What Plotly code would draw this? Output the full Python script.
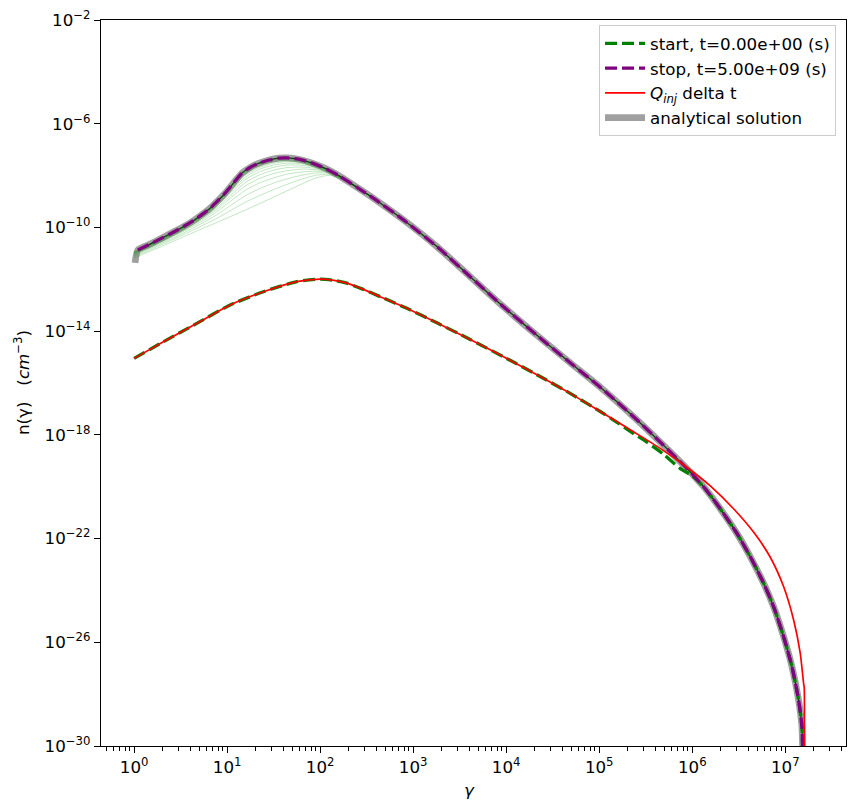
import plotly.graph_objects as go

# ---------------- data (log10 values) ----------------
# stop curve (t = 5.00e+09 s)
stop_logx = [0.04, 0.15, 0.261, 0.45, 0.62, 0.75, 0.835, 0.9, 0.978, 1.07, 1.158, 1.25, 1.337,
             1.45, 1.552, 1.65, 1.767, 1.9, 2.054, 2.2, 2.412, 2.591, 2.896, 3.255, 3.613, 3.971,
             4.330, 4.688, 5.03, 5.369, 5.656, 5.943, 6.122, 6.301, 6.480, 6.624, 6.767, 6.875,
             6.982, 7.072, 7.143, 7.179, 7.19]
stop_logy = [-10.87, -10.68, -10.48, -10.13, -9.78, -9.45, -9.20, -8.97, -8.68, -8.28, -7.91, -7.68,
             -7.53, -7.40, -7.33, -7.32, -7.37, -7.50, -7.72, -8.0, -8.49, -8.92, -9.71, -10.74,
             -11.90, -13.06, -14.16, -15.22, -16.22, -17.30, -18.28, -19.30, -20.0, -20.85, -21.80,
             -22.70, -23.72, -24.63, -25.78, -26.94, -28.22, -29.25, -31.0]

# analytical solution
ana_logx = [0.01] + stop_logx
ana_logy = [-11.37] + stop_logy

# Q_inj * delta t
inj_logx = [0.0, 0.315, 0.674, 1.032, 1.39, 1.749, 2.0, 2.15, 2.287, 2.45, 2.645, 2.932, 3.255,
            3.613, 3.971, 4.330, 4.688, 5.011, 5.369, 5.656, 5.943, 6.194, 6.444, 6.659, 6.839,
            6.982, 7.090, 7.161, 7.197, 7.204, 7.204]
inj_logy = [-15.05, -14.41, -13.70, -12.99, -12.48, -12.09, -11.99, -12.04, -12.15, -12.37, -12.67,
            -13.12, -13.68, -14.32, -14.99, -15.68, -16.40, -17.10, -17.88, -18.52, -19.25, -19.97,
            -20.85, -21.75, -22.72, -23.85, -25.14, -26.42, -27.58, -27.75, -31.0]

# start curve (t = 0)
start_logx = [0.0, 0.315, 0.674, 1.032, 1.39, 1.749, 2.0, 2.15, 2.287, 2.45, 2.645, 2.932, 3.255,
              3.613, 3.971, 4.330, 4.688, 5.011, 5.15, 5.369, 5.513, 5.692, 5.871, 6.0, 6.122,
              6.301, 6.480, 6.624, 6.767, 6.875, 6.982, 7.072, 7.143, 7.179, 7.19]
start_logy = [-15.05, -14.41, -13.70, -12.99, -12.48, -12.09, -11.99, -12.04, -12.15, -12.37, -12.67,
              -13.12, -13.68, -14.32, -14.99, -15.68, -16.40, -17.10, -17.42, -17.95, -18.28, -18.75,
              -19.30, -19.58, -20.0, -20.85, -21.80, -22.70, -23.72, -24.63, -25.78, -26.94, -28.22,
              -29.25, -31.0]

# intermediate time snapshots (thin green lines)
snap_logx = [0.0, 0.25, 0.5, 0.75, 0.9, 1.05, 1.2, 1.35, 1.5, 1.65, 1.8, 1.95, 2.1, 2.25, 2.4, 2.6]
snap_logy = [
    [-11.18, -10.80, -10.41, -10.02, -9.79, -9.56, -9.32, -9.08, -8.83, -8.58, -8.33, -8.10, -7.99, -8.16, -8.46, -8.96],
    [-11.13, -10.74, -10.33, -9.90, -9.63, -9.32, -9.02, -8.77, -8.54, -8.33, -8.14, -7.99, -7.95, -8.15, -8.46, -8.96],
    [-11.09, -10.69, -10.27, -9.80, -9.49, -9.12, -8.77, -8.50, -8.29, -8.12, -7.99, -7.90, -7.91, -8.15, -8.46, -8.96],
    [-11.06, -10.65, -10.21, -9.72, -9.37, -8.95, -8.56, -8.28, -8.09, -7.94, -7.86, -7.83, -7.88, -8.14, -8.46, -8.96],
    [-11.03, -10.61, -10.17, -9.65, -9.28, -8.82, -8.39, -8.11, -7.92, -7.81, -7.75, -7.77, -7.86, -8.14, -8.46, -8.96],
    [-11.01, -10.59, -10.13, -9.60, -9.21, -8.72, -8.26, -7.97, -7.79, -7.69, -7.67, -7.72, -7.84, -8.13, -8.46, -8.96],
    [-10.99, -10.56, -10.10, -9.55, -9.14, -8.62, -8.14, -7.85, -7.68, -7.59, -7.60, -7.68, -7.82, -8.13, -8.46, -8.96],
    [-10.98, -10.55, -10.08, -9.52, -9.09, -8.55, -8.05, -7.75, -7.59, -7.52, -7.54, -7.65, -7.81, -8.13, -8.46, -8.96],
    [-10.96, -10.53, -10.06, -9.49, -9.05, -8.49, -7.97, -7.68, -7.52, -7.46, -7.49, -7.62, -7.80, -8.12, -8.46, -8.96],
    [-10.95, -10.52, -10.04, -9.47, -9.02, -8.44, -7.91, -7.61, -7.46, -7.41, -7.46, -7.60, -7.79, -8.12, -8.46, -8.96],
    [-10.95, -10.51, -10.03, -9.45, -8.99, -8.41, -7.87, -7.57, -7.41, -7.37, -7.43, -7.59, -7.79, -8.12, -8.46, -8.96],
]

x_decades = list(range(0, 8))
y_decades = list(range(-30, -1, 4))

# ---------------- figure ----------------
def p10(v):
    return [10 ** a for a in v]

FONT = "DejaVu Sans"
FS = 16.7
DASH = "12px,5px"
fig = go.Figure()

fig.add_trace(go.Scatter(x=p10(ana_logx), y=p10(ana_logy), mode="lines",
                         line=dict(color="rgba(150,150,150,0.9)", width=6.7, shape="spline", smoothing=0.6),
                         name="analytical solution", legendrank=4))

for s in snap_logy:
    fig.add_trace(go.Scatter(x=p10(snap_logx), y=p10(s), mode="lines",
                             line=dict(color="rgba(0,150,0,0.3)", width=0.8, shape="spline", smoothing=0.6),
                             showlegend=False, hoverinfo="skip"))

fig.add_trace(go.Scatter(x=p10(stop_logx), y=p10(stop_logy), mode="lines",
                         line=dict(color="#0b3d0b", width=1.3, shape="spline", smoothing=0.6),
                         showlegend=False, hoverinfo="skip"))

fig.add_trace(go.Scatter(x=p10(start_logx), y=p10(start_logy), mode="lines",
                         line=dict(color="green", width=3.3, dash=DASH, shape="spline", smoothing=0.6),
                         name="start, t=0.00e+00 (s)", legendrank=1))

fig.add_trace(go.Scatter(x=p10(stop_logx), y=p10(stop_logy), mode="lines",
                         line=dict(color="purple", width=3.3, dash=DASH, shape="spline", smoothing=0.6),
                         name="stop, t=5.00e+09 (s)", legendrank=2))

fig.add_trace(go.Scatter(x=p10(inj_logx), y=p10(inj_logy), mode="lines",
                         line=dict(color="red", width=1.7, shape="spline", smoothing=0.6),
                         name="<i>Q</i><sub><i>inj</i></sub> delta t", legendrank=3))

fig.update_layout(
    width=856, height=811,
    margin=dict(l=101, r=10, t=20, b=65, autoexpand=False),
    plot_bgcolor="white", paper_bgcolor="white",
    font=dict(family=FONT, size=FS, color="black"),
    showlegend=True,
    legend=dict(x=0.9866, y=0.993, xanchor="right", yanchor="top",
                bgcolor="rgba(255,255,255,0.8)", bordercolor="#cccccc", borderwidth=1,
                font=dict(family=FONT, size=FS), tracegroupgap=3, traceorder="normal",
                itemwidth=40),
    xaxis=dict(type="log", range=[-0.356, 7.653], showgrid=False, zeroline=False,
               showline=True, linecolor="black", linewidth=1.3, mirror=True,
               ticks="outside", ticklen=6, tickwidth=1.1, tickcolor="black",
               tickvals=[10 ** k for k in x_decades],
               ticktext=["10<sup>%d</sup>" % k for k in x_decades],
               tickfont=dict(family=FONT, size=FS),
               minor=dict(ticks="outside", ticklen=3.5, tickwidth=0.9, tickcolor="black",
                          tickvals=[m * 10 ** k for k in range(-1, 8) for m in range(2, 10)])),
    yaxis=dict(type="log", range=[-30, -2], showgrid=False, zeroline=False,
               showline=True, linecolor="black", linewidth=1.3, mirror=True,
               ticks="outside", ticklen=6, tickwidth=1.1, tickcolor="black",
               tickvals=[10 ** k for k in y_decades],
               ticktext=["10<sup>%s</sup>" % str(k).replace("-", "\u2212") for k in y_decades],
               tickfont=dict(family=FONT, size=FS)),
    annotations=[
        dict(text="<i>\u03b3</i>", xref="paper", yref="paper", x=0.495, y=-0.0606,
             xanchor="center", yanchor="middle", showarrow=False, font=dict(family=FONT, size=FS)),
        dict(text="n(\u03b3)\u00a0\u00a0\u00a0(<i>cm</i><sup>\u22123</sup>)", xref="paper", yref="paper",
             x=-0.106, y=0.5, xanchor="center", yanchor="middle", textangle=-90, showarrow=False,
             font=dict(family=FONT, size=FS)),
    ],
)

# put each legend entry in its own group for spacing
for tr in fig.data:
    if tr.showlegend is not False:
        tr.legendgroup = tr.name

fig.write_html("out.html")
